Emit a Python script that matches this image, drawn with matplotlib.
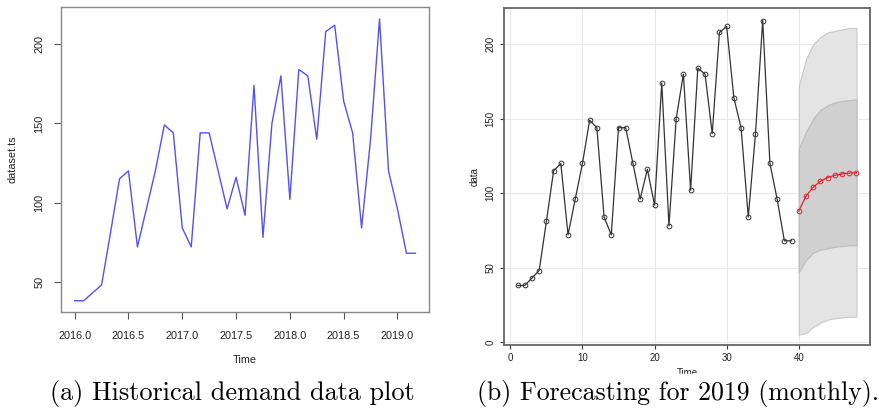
import numpy as np
import matplotlib
matplotlib.use('Agg')
import matplotlib.pyplot as plt

plt.rcParams['font.family'] = ['Liberation Sans', 'DejaVu Sans']

# monthly demand, Jan 2016 .. Mar 2019
demand = [38, 38, 43, 48, 81, 115, 120, 72, 96, 120, 149, 144, 84, 72, 144, 144,
          120, 96, 116, 92, 174, 78, 150, 180, 102, 184, 180, 140, 208, 212, 164,
          144, 84, 140, 216, 120, 96, 68, 68]
start_year = 2016.0

# forecast for periods 40..48
fc_mean = [88, 98, 104, 108, 110.5, 112, 113, 113.5, 113.8]
lo80 = [47, 55, 60, 62, 63, 64, 64.5, 65, 65]
hi80 = [130, 141, 150, 156, 159, 161, 162, 162.5, 163]
lo95 = [5, 6, 10, 13, 15, 16, 16.5, 17, 17]
hi95 = [172, 190, 200, 205, 208, 209, 210, 211, 211]

captions = ['(a) Historical demand data plot', '(b) Forecasting for 2019 (monthly).']

W, H = 883, 411
fig = plt.figure(figsize=(W / 100, H / 100), dpi=100)

def px_axes(l, t, r, b):
    return fig.add_axes([l / W, 1 - b / H, (r - l) / W, (b - t) / H])

# ---- panel a
ax1 = px_axes(61, 7, 429, 312)
t = start_year + np.arange(len(demand)) / 12
ax1.plot(t, demand, color='#5050ff', lw=1.0)
ax1.set_xlim(2015.873, 2019.293)
ax1.set_ylim(30.9, 223.5)
ax1.set_xticks([2016.0, 2016.5, 2017.0, 2017.5, 2018.0, 2018.5, 2019.0])
ax1.set_xticklabels(['2016.0', '2016.5', '2017.0', '2017.5', '2018.0', '2018.5', '2019.0'])
ax1.set_yticks([50, 100, 150, 200])
for lab in ax1.get_yticklabels():
    lab.set_rotation(90)
    lab.set_va('center')
ax1.tick_params(labelsize=7.8, color='#555555', labelcolor='#222222', length=5)
ax1.tick_params(axis='x', pad=9)
ax1.tick_params(axis='y', pad=7)
for s in ax1.spines.values():
    s.set_color('#888888')
    s.set_linewidth(1.0)
ax1.set_xlabel('Time', fontsize=7.8, color='#222222', labelpad=10)
ax1.set_ylabel('dataset.ts', fontsize=7.8, color='#222222', labelpad=12)

# ---- panel b
ax2 = px_axes(504, 8, 870, 345)
x_hist = np.arange(1, len(demand) + 1)
x_fc = np.arange(len(demand) + 1, len(demand) + 1 + len(fc_mean))
ax2.set_xlim(-0.88, 49.88)
ax2.set_ylim(-2, 224.4)
ax2.set_xticks([0, 10, 20, 30, 40])
ax2.set_yticks([0, 50, 100, 150, 200])
ax2.grid(True, color='#e8e8e8', lw=0.8)
ax2.set_axisbelow(True)
ax2.fill_between(x_fc, lo95, hi95, color='#e4e4e4', edgecolor='#c8c8c8', lw=0.8, zorder=2)
ax2.fill_between(x_fc, lo80, hi80, color='#d0d0d0', edgecolor='#bcbcbc', lw=0.8, zorder=3)
ax2.plot(x_hist, demand, color='#333333', lw=0.9, marker='o', ms=3.4,
         mfc='none', mec='#333333', mew=0.7, zorder=4)
ax2.plot(x_fc, fc_mean, color='#e8202a', lw=0.9, marker='o', ms=3.4,
         mfc='none', mec='#e8202a', mew=0.7, zorder=5)
for lab in ax2.get_yticklabels():
    lab.set_rotation(90)
    lab.set_va('center')
ax2.tick_params(labelsize=7, color='#333333', labelcolor='#222222', length=3)
ax2.tick_params(axis='x', pad=3)
ax2.tick_params(axis='y', pad=3)
for s in ax2.spines.values():
    s.set_color('#666666')
    s.set_linewidth(1.3)
ax2.set_xlabel('Time', fontsize=7, color='#222222', labelpad=3)
ax2.set_ylabel('data', fontsize=7, color='#222222', labelpad=4)

# ---- captions (drawn over the lower label, as in the source figure)
fig.patches.append(plt.Rectangle((0, 0), 1, 1 - 374 / H, transform=fig.transFigure,
                                 color='white', zorder=10))
renderer = fig.canvas.get_renderer()
for cap, x0, x1 in [(captions[0], 49, 415), (captions[1], 477, 879)]:
    txt = fig.text((x0 + x1) / 2 / W, 1 - 393 / H, cap, ha='center', va='center',
                   fontsize=16, family='cmr10', zorder=11)
    w = txt.get_window_extent(renderer).width
    txt.set_fontsize(16 * (x1 - x0) / w)

fig.savefig('out.png', dpi=100)
